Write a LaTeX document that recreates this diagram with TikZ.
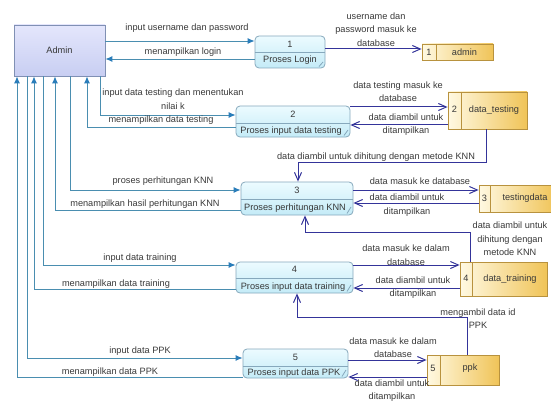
\documentclass[tikz,border=0pt]{standalone}
\usepackage{fontspec}
\setmainfont{Liberation Sans}
\usetikzlibrary{arrows.meta}
\definecolor{txt}{HTML}{383838}
\definecolor{aline}{HTML}{4A8EB0}
\definecolor{ahead}{HTML}{2A7DBA}
\definecolor{sline}{HTML}{34349A}
\definecolor{pborder}{HTML}{86A8BC}
\definecolor{ptop}{HTML}{ECFBFF}
\definecolor{pbot}{HTML}{C4EBF7}
\definecolor{sborder}{HTML}{B8923E}
\definecolor{sleft}{HTML}{FFF9E2}
\definecolor{sright}{HTML}{F0C458}
\definecolor{aborder}{HTML}{8090B4}
\definecolor{atop}{HTML}{E4E6FC}
\definecolor{abot}{HTML}{C8CEF2}
\tikzset{
  lbl/.style={font=\fontsize{9.2}{13.5}\selectfont, text=txt, inner sep=0pt, align=center},
  aconn/.style={draw=aline, line width=0.9pt, -{Latex[length=7pt,width=6pt,color=ahead]}},
  sconn/.style={draw=sline, line width=1pt, -{Straight Barb[length=8pt,width=7pt]}},
  procbox/.style={draw=pborder, line width=0.8pt, rounded corners=4pt, top color=ptop, bottom color=pbot, inner sep=0pt},
  storebox/.style={draw=sborder, line width=0.8pt, left color=sleft, right color=sright, inner sep=0pt},
  entbox/.style={draw=aborder, line width=0.8pt, top color=atop, bottom color=abot, inner sep=0pt},
  divp/.style={draw=pborder, line width=0.8pt},
  divs/.style={draw=sborder, line width=0.8pt},
}
\begin{document}
\begin{tikzpicture}[x=1pt,y=-1pt]
\useasboundingbox (0,0) rectangle (551,401);
% Admin
\node[entbox, minimum width=91pt, minimum height=51pt] (admin) at (59.5,50.5) {};
\node[lbl] (admintxt) at (admin.center) {Admin};
% processes
\node[procbox, minimum width=70pt, minimum height=32pt] (p1) at (290,52) {};
\draw[divp] (p1.west |- 0,52) -- (p1.east |- 0,52);
\node[lbl] (p1n) at (290,44) {1};
\node[lbl] (p1t) at (290,60.5) {Proses Login};
\draw[divp] (323,62) -- (319,66.5);

\node[procbox, minimum width=114pt, minimum height=31pt] (p2) at (293,121.5) {};
\draw[divp] (p2.west |- 0,123) -- (p2.east |- 0,123);
\node[lbl] (p2n) at (293,114.5) {2};
\node[lbl] (p2t) at (291,131) {Proses input data testing};
\draw[divp] (348,130) -- (344,135.5);

\node[procbox, minimum width=112pt, minimum height=33pt] (p3) at (297,198.5) {};
\draw[divp] (p3.west |- 0,199) -- (p3.east |- 0,199);
\node[lbl] (p3n) at (297,190) {3};
\node[lbl] (p3t) at (295,208) {Proses perhitungan KNN};
\draw[divp] (351,207) -- (347,213.5);

\node[procbox, minimum width=117pt, minimum height=31pt] (p4) at (294.5,277.5) {};
\draw[divp] (p4.west |- 0,278) -- (p4.east |- 0,278);
\node[lbl] (p4n) at (294.5,269) {4};
\node[lbl] (p4t) at (293,287) {Proses input data training};
\draw[divp] (351,285) -- (347,291.5);

\node[procbox, minimum width=105pt, minimum height=29pt] (p5) at (295.5,363.5) {};
\draw[divp] (p5.west |- 0,366) -- (p5.east |- 0,366);
\node[lbl] (p5n) at (295.5,357) {5};
\node[lbl] (p5t) at (294,373.5) {Proses input data PPK};
\draw[divp] (346,370) -- (342,376.5);

% stores
\node[storebox, minimum width=71pt, minimum height=16pt] (s1) at (457.5,52) {};
\draw[divs] (436,44) -- (436,60);
\node[lbl] (s1n) at (429,52) {1};
\node[lbl] (s1t) at (464.5,52) {admin};

\node[storebox, minimum width=79pt, minimum height=37pt] (s2) at (487.5,110.5) {};
\draw[divs] (461,92) -- (461,129);
\node[lbl] (s2n) at (454.5,109) {2};
\node[lbl] (s2t) at (494,110) {data\_testing};

\node[storebox, minimum width=76pt, minimum height=27pt] (s3) at (517,198.5) {};
\draw[divs] (490,185) -- (490,212);
\node[lbl] (s3n) at (484.5,198.5) {3};
\node[lbl] (s3t) at (525,198.5) {testingdata};

\node[storebox, minimum width=87pt, minimum height=34pt] (s4) at (503.5,279) {};
\draw[divs] (472,262) -- (472,296);
\node[lbl] (s4n) at (466,278) {4};
\node[lbl] (s4t) at (510,279) {data\_training};

\node[storebox, minimum width=72pt, minimum height=30pt] (s5) at (463,370) {};
\draw[divs] (440,355) -- (440,385);
\node[lbl] (s5n) at (433,368) {5};
\node[lbl] (s5t) at (470,368.5) {ppk};

% Admin <-> processes
\draw[aconn] (admin.east |- 0,41) -- (p1.west |- 0,41);
\node[lbl] (l1) at (187,28) {input username dan password};
\draw[aconn] (p1.west |- 0,59) -- (admin.east |- 0,59);
\node[lbl] (l2) at (183,52) {menampilkan login};

\draw[aconn] (admin.south -| 100,0) |- (p2.west |- 0,115);
\node[lbl] (l3) at (173,99) {input data testing dan menentukan\\nilai k};
\draw[aconn] (p2.west |- 0,127) -| (admin.south -| 87,0);
\node[lbl] (l4) at (161,120) {menampilkan data testing};

\draw[aconn] (admin.south -| 70,0) |- (p3.west |- 0,190);
\node[lbl] (l5) at (163,181) {proses perhitungan KNN};
\draw[aconn] (p3.west |- 0,210) -| (admin.south -| 55,0);
\node[lbl] (l6) at (145,204) {menampilkan hasil perhitungan KNN};

\draw[aconn] (admin.south -| 43,0) |- (p4.west |- 0,265);
\node[lbl] (l7) at (140,258) {input data training};
\draw[aconn] (p4.west |- 0,289) -| (admin.south -| 34,0);
\node[lbl] (l8) at (116,284) {menampilkan data training};

\draw[aconn] (admin.south -| 27,0) |- (p5.west |- 0,358);
\node[lbl] (l9) at (140,351.5) {input data PPK};
\draw[aconn] (p5.west |- 0,377) -| (admin.south -| 17,0);
\node[lbl] (l10) at (110,372.5) {menampilkan data PPK};

% processes <-> stores
\draw[sconn] (p1.east |- 0,49) -- (s1.west |- 0,49);
\node[lbl] (m1) at (376,29.5) {username dan\\password masuk ke\\database};

\draw[sconn] (p2.east |- 0,107) -- (s2.west |- 0,107);
\node[lbl] (m2) at (398,91.5) {data testing masuk ke\\database};
\draw[sconn] (s2.west |- 0,125) -- (p2.east |- 0,125);
\node[lbl] (m3) at (406,124.5) {data diambil untuk\\ditampilkan};

\draw[sconn] (s2.south -| 486,0) |- (298,162) -- (p3.north -| 298,0);
\node[lbl] (m4) at (376,157) {data diambil untuk dihitung dengan metode KNN};

\draw[sconn] (p3.east |- 0,190) -- (s3.west |- 0,190);
\node[lbl] (m5) at (420,181) {data masuk ke database};
\draw[sconn] (s3.west |- 0,203) -- (p3.east |- 0,203);
\node[lbl] (m6) at (407,205) {data diambil untuk\\ditampilkan};

\draw[sconn] (s4.north -| 470,0) |- (305,232) -- (p3.south -| 305,0);
\node[lbl] (m7) at (510,239) {data diambil untuk\\dihitung dengan\\metode KNN};

\draw[sconn] (p4.east |- 0,265) -- (s4.west |- 0,265);
\node[lbl] (m8) at (406,255) {data masuk ke dalam\\database};
\draw[sconn] (s4.west |- 0,288) -- (p4.east |- 0,288);
\node[lbl] (m9) at (413,287.5) {data diambil untuk\\ditampilkan};

\draw[sconn] (s5.north -| 467,0) |- (297,317) -- (p4.south -| 297,0);
\node[lbl] (m10) at (478,318.5) {mengambil data id\\PPK};

\draw[sconn] (p5.east |- 0,360) -- (s5.west |- 0,360);
\node[lbl] (m11) at (393,347.5) {data masuk ke dalam\\database};
\draw[sconn] (s5.west |- 0,377) -- (p5.east |- 0,377);
\node[lbl] (m12) at (392,390.5) {data diambil untuk\\ditampilkan};
\end{tikzpicture}
\end{document}
